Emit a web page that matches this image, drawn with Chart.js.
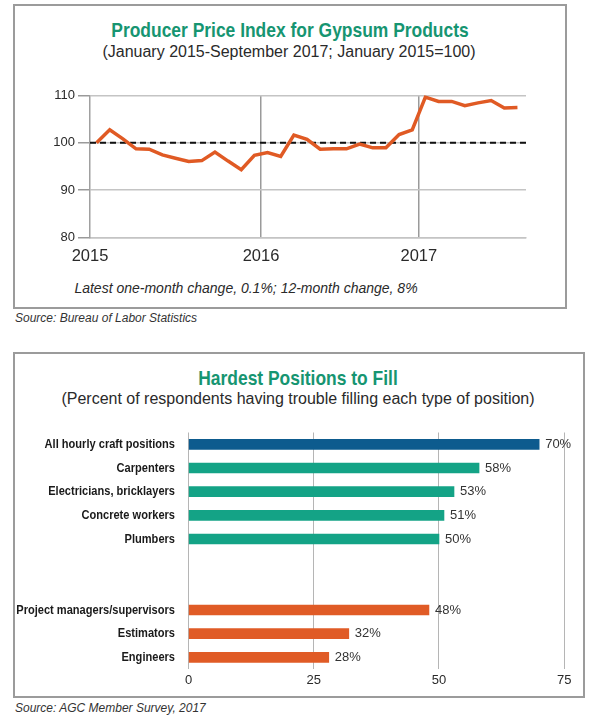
<!DOCTYPE html>
<html><head><meta charset="utf-8">
<script src="https://cdn.jsdelivr.net/npm/chart.js@4.4.1/dist/chart.umd.min.js"></script>
<style>
html,body{margin:0;padding:0;background:#fff;width:600px;height:720px;overflow:hidden;font-family:"Liberation Sans",Arial,sans-serif;}
.box{position:absolute;border:2px solid #9b9b9b;box-sizing:border-box;}
.t{position:absolute;white-space:nowrap;line-height:1;}
.c{transform:translate(-50%,-50%);}
.l{transform:translateY(-50%);}
.title{font-family:"Liberation Sans",Arial,sans-serif;font-weight:bold;color:#169571;font-size:21px;transform:translate(-50%,-50%) scaleX(0.83);}
.sub{font-size:16px;color:#2a2a2a;}
.note{font-size:14px;font-style:italic;color:#2a2a2a;}
.src{font-size:12px;font-style:italic;color:#333;}
.wrap{position:absolute;}
</style>
</head><body>
<div class="box" style="left:13px;top:4px;width:554px;height:305px;"></div>
<div class="box" style="left:13px;top:352px;width:572px;height:346px;"></div>

<div class="t title" style="left:290px;top:29px;">Producer Price Index for Gypsum Products</div>
<div class="t c sub" style="left:289px;top:52px;">(January 2015-September 2017; January 2015=100)</div>
<div class="t c note" style="left:246px;top:288px;">Latest one-month change, 0.1%; 12-month change, 8%</div>
<div class="t l src" style="left:15px;top:318px;">Source: Bureau of Labor Statistics</div>

<div class="t title" style="left:298px;top:377px;">Hardest Positions to Fill</div>
<div class="t c sub" style="left:298px;top:399px;">(Percent of respondents having trouble filling each type of position)</div>
<div class="t l src" style="left:15px;top:708px;">Source: AGC Member Survey, 2017</div>

<div class="wrap" style="left:14px;top:80px;width:552px;height:200px;"><canvas id="ppi" width="552" height="200"></canvas></div>
<div class="wrap" style="left:14px;top:420px;width:570px;height:276px;"><canvas id="pos" width="570" height="276"></canvas></div>

<script>
// ---- Data: Producer Price Index for Gypsum Products ----
const monthLabels = ['Jan 2015','Feb 2015','Mar 2015','Apr 2015','May 2015','Jun 2015','Jul 2015','Aug 2015','Sep 2015','Oct 2015','Nov 2015','Dec 2015',
  'Jan 2016','Feb 2016','Mar 2016','Apr 2016','May 2016','Jun 2016','Jul 2016','Aug 2016','Sep 2016','Oct 2016','Nov 2016','Dec 2016',
  'Jan 2017','Feb 2017','Mar 2017','Apr 2017','May 2017','Jun 2017','Jul 2017','Aug 2017','Sep 2017'];
const ppiValues = [100.0,102.7,100.8,98.7,98.6,97.4,96.7,96.0,96.2,98.0,96.1,94.3,
  97.3,97.9,97.1,101.6,100.7,98.6,98.7,98.7,99.7,98.9,98.9,101.7,
  102.7,109.6,108.7,108.7,107.8,108.4,108.9,107.3,107.4];
const yearTickLabels = ['2015','2016','2017'];
const baseIndexValue = 100;

// ---- Data: Hardest Positions to Fill ----
const positionLabels = ['All hourly craft positions','Carpenters','Electricians, bricklayers','Concrete workers','Plumbers','','',
  'Project managers/supervisors','Estimators','Engineers'];
const positionValues = [70,58,53,51,50,null,null,48,32,28];
const positionGroups = ['all','craft','craft','craft','craft',null,null,'salaried','salaried','salaried'];

Chart.defaults.font.family = '"Liberation Sans", Arial, sans-serif';
Chart.defaults.color = '#2a2a2a';

const groupColors = {all:'#0d5b8e', craft:'#14a386', salaried:'#e05b26'};

const baseLinePlugin = {
  id:'baseLine',
  beforeDatasetsDraw(chart){
    const {ctx, chartArea, scales} = chart;
    const y = scales.y.getPixelForValue(baseIndexValue);
    ctx.save();
    ctx.strokeStyle = '#111';
    ctx.lineWidth = 2;
    ctx.setLineDash([6,4]);
    ctx.beginPath();
    ctx.moveTo(chartArea.left, y);
    ctx.lineTo(chartArea.right, y);
    ctx.stroke();
    ctx.restore();
  }
};

new Chart(document.getElementById('ppi'), {
  type:'line',
  data:{
    labels: monthLabels,
    datasets:[{
      data: ppiValues.map((v,i)=>({x:i, y:v})),
      borderColor:'#e05a24',
      borderWidth:3.5,
      pointRadius:0,
      tension:0,
      fill:false
    }]
  },
  options:{
    responsive:false, animation:false,
    layout:{padding:{left:0,right:40,top:15.3,bottom:0}},
    plugins:{legend:{display:false}, tooltip:{enabled:false}},
    scales:{
      x:{
        type:'linear', min:-0.5, max:32.65,
        afterBuildTicks(s){ s.ticks = [-0.5,12.5,24.5].map(value=>({value})); },
        afterFit(s){ s.height = 42.7; },
        ticks:{ callback:(v,i)=>yearTickLabels[i], font:{size:16.5}, color:'#2a2a2a', padding:9, maxRotation:0, autoSkip:false },
        grid:{ color:(c)=> c.index===0 ? 'rgba(0,0,0,0)' : '#9a9a9a', lineWidth:1.5, drawTicks:false },
        border:{ display:true, color:'#c4c4c4', width:1.5 }
      },
      y:{
        min:80, max:110,
        afterFit(s){ s.width = 76; },
        ticks:{ stepSize:10, font:{size:13}, color:'#2a2a2a', padding:3 },
        grid:{ color:'#c4c4c4', lineWidth:1.5, tickLength:12, tickColor:'#9a9a9a' },
        border:{ color:'#a0a0a0', width:1.5 }
      }
    }
  },
  plugins:[baseLinePlugin]
});

const valueLabelPlugin = {
  id:'valueLabels',
  afterDatasetsDraw(chart){
    const {ctx} = chart;
    const meta = chart.getDatasetMeta(0);
    ctx.save();
    ctx.font = '13px "Liberation Sans", Arial, sans-serif';
    ctx.fillStyle = '#333';
    ctx.textAlign = 'left';
    ctx.textBaseline = 'middle';
    meta.data.forEach((bar,i)=>{
      const v = positionValues[i];
      if (v === null) return;
      ctx.fillText(v + '%', bar.x + 6, bar.y);
    });
    ctx.restore();
  }
};

// condensed category labels drawn at the y scale's tick positions
const condensedLabelPlugin = {
  id:'condensedLabels',
  afterDraw(chart){
    const {ctx, chartArea} = chart;
    const yScale = chart.scales.y;
    ctx.save();
    ctx.font = 'bold 13.5px "Liberation Sans", Arial, sans-serif';
    ctx.fillStyle = '#1a1a1a';
    ctx.textAlign = 'right';
    ctx.textBaseline = 'middle';
    yScale.ticks.forEach((t,i)=>{
      const label = positionLabels[t.value];
      if (!label) return;
      const y = yScale.getPixelForTick(i);
      ctx.save();
      ctx.translate(chartArea.left - 13.5, y);
      ctx.scale(0.82, 1);
      ctx.fillText(label, 0, 0);
      ctx.restore();
    });
    ctx.restore();
  }
};

new Chart(document.getElementById('pos'), {
  type:'bar',
  data:{
    labels: positionLabels,
    datasets:[{
      data: positionValues,
      backgroundColor: positionGroups.map(g => groupColors[g] || 'rgba(0,0,0,0)'),
      barThickness:10,
      borderWidth:0
    }]
  },
  options:{
    indexAxis:'y',
    responsive:false, animation:false,
    layout:{padding:{left:0,right:19.8,top:12.5,bottom:0}},
    plugins:{legend:{display:false}, tooltip:{enabled:false}},
    scales:{
      x:{
        min:0, max:75,
        afterFit(s){ s.height = 26.8; },
        ticks:{ stepSize:25, font:{size:13}, color:'#2a2a2a', padding:3 },
        grid:{ color:'#b5b5b5', lineWidth:1, drawTicks:false },
        border:{ display:false }
      },
      y:{
        afterFit(s){ s.width = 174.5; },
        ticks:{ display:false, autoSkip:false },
        grid:{ display:false },
        border:{ display:false }
      }
    }
  },
  plugins:[valueLabelPlugin, condensedLabelPlugin]
});
</script>
</body></html>
